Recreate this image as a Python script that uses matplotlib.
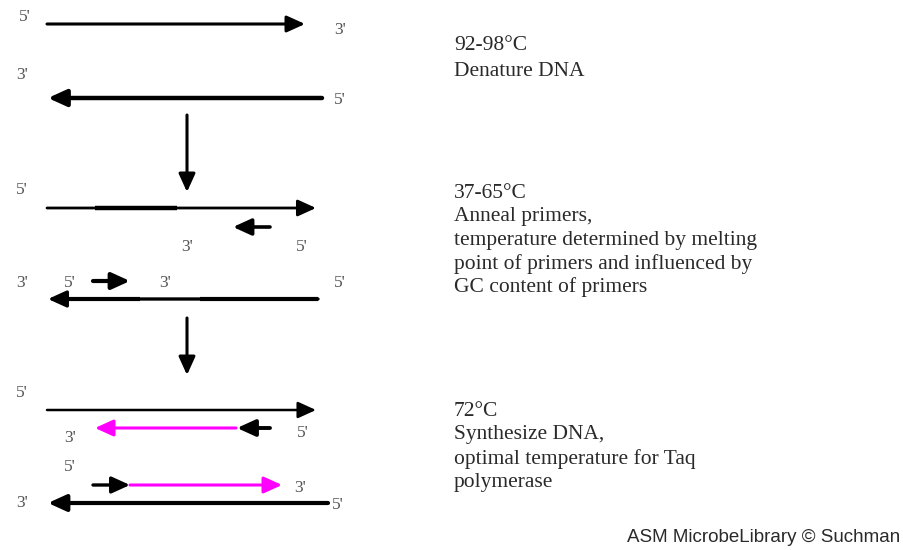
import matplotlib
matplotlib.use("Agg")
import matplotlib.pyplot as plt

# ---- diagram content ----
# strands: (x_start, x_end, y, color, linewidth)
strand_x0 = [47, 322, 47, 270, 93, 318, 47, 236, 270, 93, 130, 328]
strand_x1 = [305, 48, 316, 233, 130, 48, 316, 95, 237, 130, 282, 48]
strand_y = [24, 98, 208, 227, 281, 299, 410, 428, 428, 485, 485, 503]
strand_col = ["black", "black", "black", "black", "black", "black",
              "black", "#ff00ff", "black", "black", "#ff00ff", "black"]
strand_lw = [2.2, 3.2, 2.0, 2.6, 3.0, 2.4, 1.8, 2.2, 2.8, 2.4, 2.2, 3.0]

# thicker primer-bound segments
seg_x0 = [95, 60, 200]
seg_x1 = [177, 140, 318]
seg_y = [208, 299, 299]
seg_lw = [3.2, 3.0, 3.0]

# step arrows (vertical)
step_x = [187, 187]
step_y0 = [115, 318]
step_y1 = [192, 375]

# end labels (centres)
end_text = ["5'", "3'", "3'", "5'", "5'", "3'", "5'", "3'", "5'", "3'", "5'",
            "5'", "3'", "5'", "3'", "5'", "3'", "5'"]
end_x = [25, 340, 22, 340, 22, 187, 302, 22, 70, 165, 340,
         22, 70, 303, 22, 70, 300, 338]
end_y = [17, 30, 75, 100, 190, 247, 247, 283, 283, 283, 283,
         393, 438, 433, 503, 467, 488, 505]

# right-hand notes
note_lines = ["92-98°C", "Denature DNA",
              "37-65°C", "Anneal primers,", "temperature determined by melting",
              "point of primers and influenced by", "GC content of primers",
              "72°C", "Synthesize DNA,", "optimal temperature for Taq", "polymerase"]
note_y = [46, 72, 193, 216, 240, 264, 287, 411, 435, 459, 482]
credit = "ASM MicrobeLibrary © Suchman"

fig = plt.figure(figsize=(9.04, 5.5), dpi=100)
ax = fig.add_axes([0, 0, 1, 1])
ax.set_xlim(0, 904)
ax.set_ylim(550, 0)
ax.axis("off")

head = "-|>,head_length=0.55,head_width=0.25"

for x0, x1, y, c, lw in zip(strand_x0, strand_x1, strand_y, strand_col, strand_lw):
    ax.annotate("", xy=(x1, y), xytext=(x0, y),
                arrowprops=dict(arrowstyle=head, lw=lw, color=c,
                                mutation_scale=20, shrinkA=0, shrinkB=0))

for x0, x1, y, lw in zip(seg_x0, seg_x1, seg_y, seg_lw):
    ax.plot([x0, x1], [y, y], color="black", lw=lw, solid_capstyle="butt")

for x, y0, y1 in zip(step_x, step_y0, step_y1):
    ax.annotate("", xy=(x, y1), xytext=(x, y0),
                arrowprops=dict(arrowstyle=head, lw=2.2, color="black",
                                mutation_scale=20, shrinkA=0, shrinkB=0))

for t, x, y in zip(end_text, end_x, end_y):
    ax.text(x, y, t, family="Liberation Serif", fontsize=12.5, color="#555555",
            ha="center", va="center")

for t, y in zip(note_lines, note_y):
    ax.text(454, y, t, family="Liberation Serif", fontsize=15.5, color="#2a2a2a",
            ha="left", va="center")

ax.text(900, 537, credit, family="Liberation Sans", fontsize=13.5, color="#2a2a2a",
        ha="right", va="center")

fig.savefig("out.png", dpi=100)
